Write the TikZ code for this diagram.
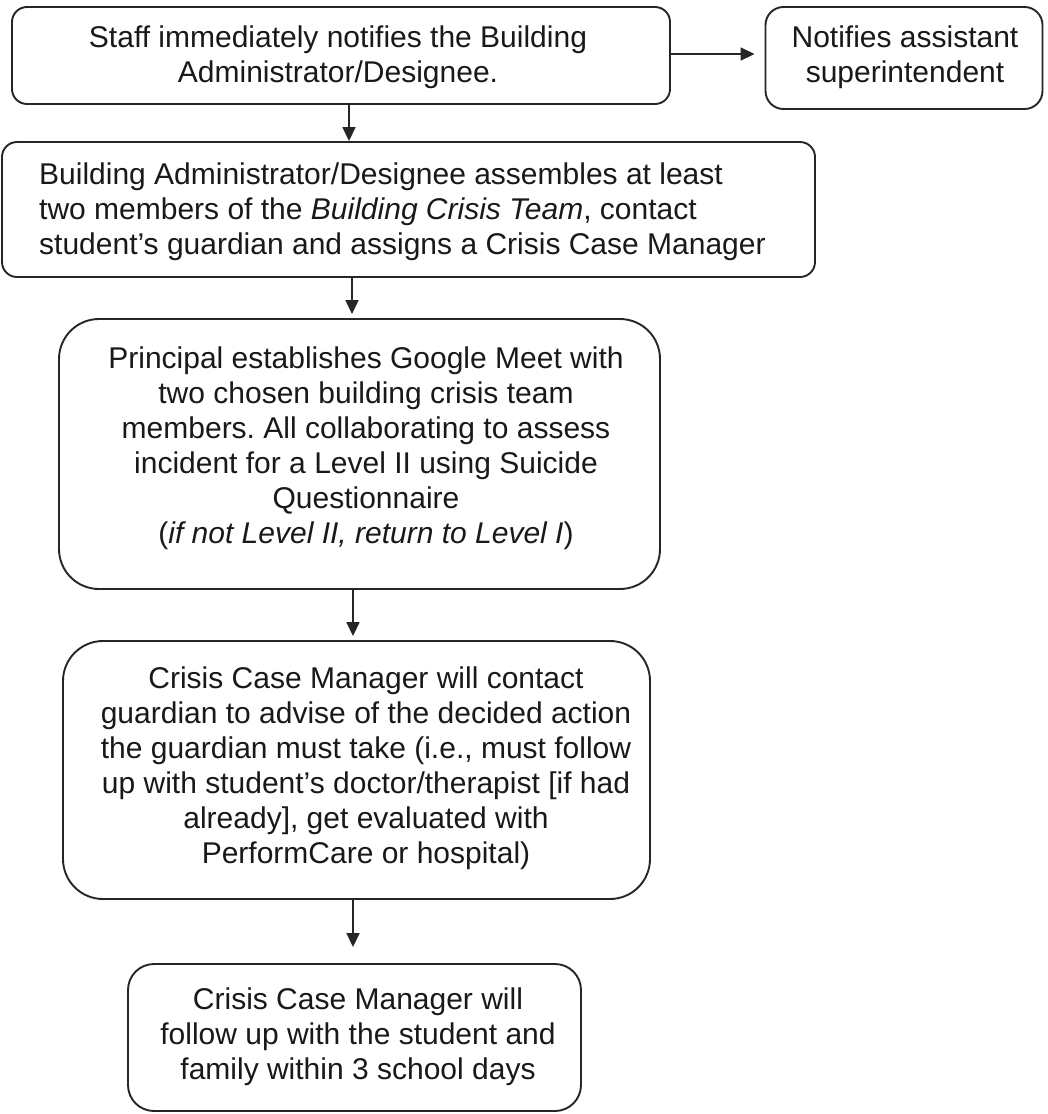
\documentclass[tikz,border=0pt]{standalone}
\usepackage{fontspec}
\setmainfont{Liberation Sans}
\usetikzlibrary{arrows.meta}
\frenchspacing

\tikzset{
  box/.style={draw=black!85, line width=1.9pt, fill=white, inner sep=0pt},
  txt/.style={inner sep=0pt, font=\fontsize{30}{35}\selectfont, align=center, text=black!90},
  txtleft/.style={inner sep=0pt, font=\fontsize{30}{35}\selectfont, align=left, anchor=west, text=black!90},
  arr/.style={draw=black!85, line width=1.7pt, -{Triangle[length=14pt,width=13pt]}},
}

\begin{document}
\begin{tikzpicture}[x=1pt, y=-1pt]
\useasboundingbox (0,0) rectangle (1048,1114);

% boxes
\node[box, rounded corners=15pt, minimum width=658pt, minimum height=97pt] (b1) at (341,55.5) {};
\node[box, rounded corners=18pt, minimum width=277pt, minimum height=102pt] (b2) at (904,58) {};
\node[box, rounded corners=15pt, minimum width=813pt, minimum height=135pt] (b3) at (408.5,209.5) {};
\node[box, rounded corners=40pt, minimum width=601pt, minimum height=270pt] (b4) at (359.5,454) {};
\node[box, rounded corners=40pt, minimum width=587pt, minimum height=258pt] (b5) at (356.5,770) {};
\node[box, rounded corners=26pt, minimum width=453pt, minimum height=147pt] (b6) at (354.5,1037.5) {};

% texts
\node[txt] (t1) at (338,57) {Staff immediately notifies the Building\\Administrator/Designee.};
\node[txt] (t2) at (905,57) {Notifies assistant\\superintendent};
\node[txtleft] (t3) at (39,212) {Building Administrator/Designee assembles at least\\two members of the \textit{Building Crisis Team}, contact\\student’s guardian and assigns a Crisis Case Manager};
\node[txt] (t4) at (366,448) {Principal establishes Google Meet with\\two chosen building crisis team\\members. All collaborating to assess\\incident for a Level II using Suicide\\Questionnaire\\(\textit{if not Level II, return to Level I})};
\node[txt] (t5) at (366,768) {Crisis Case Manager will contact\\guardian to advise of the decided action\\the guardian must take (i.e., must follow\\up with student’s doctor/therapist [if had\\already], get evaluated with\\PerformCare or hospital)};
\node[txt] (t6) at (358,1037) {Crisis Case Manager will\\follow up with the student and\\family within 3 school days};

% vertical guide positions of the connectors
\coordinate (x1) at (349,0);
\coordinate (x2) at (352,0);
\coordinate (x3) at (353,0);

% connectors
\draw[arr, shorten >=10pt] (b1.east |- 0,54) -- (b2.west |- 0,54);
\draw[arr] (b1.south -| x1) -- (b3.north -| x1);
\draw[arr, shorten >=4pt] (b3.south -| x2) -- (b4.north -| x2);
\draw[arr, shorten >=4pt] (b4.south -| x3) -- (b5.north -| x3);
\draw[arr, shorten >=16pt] (b5.south -| x3) -- (b6.north -| x3);
\end{tikzpicture}
\end{document}
